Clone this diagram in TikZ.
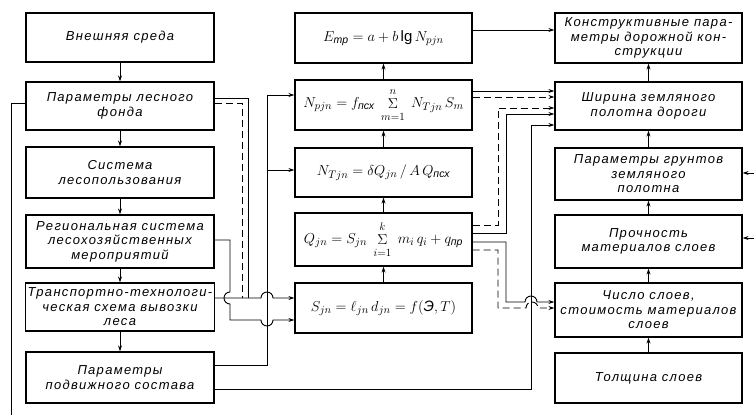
\documentclass[tikz,border=0pt]{standalone}
\usepackage{fontspec}
\usepackage{amsmath}
\setmainfont{Liberation Sans}
\newfontfamily\drft[LetterSpace=10]{Liberation Sans}
\usetikzlibrary{arrows.meta}
\newcommand{\bigsig}[2]{\mathop{\Sigma}\limits_{\lower3pt\hbox{$\scriptstyle #1$}}^{\raise2pt\hbox{$\scriptstyle #2$}}}
\begin{document}
\begin{tikzpicture}[x=1pt,y=1pt,
  box/.style={draw, line width=1.2pt, inner sep=2pt, align=center,
    font=\drft\itshape\fontsize{13}{14.5}\selectfont},
  fbox/.style={draw, line width=1.2pt, inner sep=2pt,
    font=\itshape\fontsize{15}{18}\selectfont},
  ln/.style={line width=0.9pt},
  arr/.style={ln, -{Stealth[length=6pt,width=4pt]}},
  dsh/.style={ln, dash pattern=on 7pt off 4pt},
]
\useasboundingbox (0,0) rectangle (754,-415);

% left column
\node[box, minimum width=188pt, minimum height=49pt] (L1) at (120,-37.5) {Внешняя среда};
\node[box, minimum width=188pt, minimum height=48pt] (L2) at (120,-106) {Параметры лесного\\фонда};
\node[box, minimum width=188pt, minimum height=51pt] (L3) at (120,-172.5) {Система\\лесопользования};
\node[box, minimum width=188pt, minimum height=53pt] (L4) at (120,-241.5) {Региональная система\\лесохозяйственных\\мероприятий};
\node[box, minimum width=188pt, minimum height=48pt] (L5) at (120,-307) {Транспортно-технологи-\\ческая схема вывозки\\леса};
\node[box, minimum width=188pt, minimum height=51pt] (L6) at (120,-377.5) {Параметры\\подвижного состава};

% middle column
\node[fbox, minimum width=177pt, minimum height=50pt] (M1) at (383.5,-38) {$E_{\text{тр}} = a + b\lg N_{pjn}$};
\node[fbox, minimum width=177pt, minimum height=50pt] (M2) at (383.5,-105) {$N_{pjn} = f_{\text{псх}}\;\bigsig{m=1}{n}\; N_{Tjn}\, S_m$};
\node[fbox, minimum width=177pt, minimum height=49pt] (M3) at (383.5,-172.5) {$N_{Tjn} = \delta Q_{jn}\,/\,A\,Q_{\text{псх}}$};
\node[fbox, minimum width=177pt, minimum height=53pt] (M4) at (383.5,-239.5) {$Q_{jn} = S_{jn}\;\bigsig{i=1}{k}\; m_i\, q_i + q_{\text{пр}}$};
\node[fbox, minimum width=177pt, minimum height=50pt] (M5) at (383.5,-308) {$S_{jn} = \ell_{jn}\, d_{jn} = f(\text{Э}, T)$};

% right column
\node[box, minimum width=187pt, minimum height=50pt] (R1) at (648.5,-38) {Конструктивные пара-\\метры дорожной кон-\\струкции};
\node[box, minimum width=187pt, minimum height=48pt] (R2) at (648.5,-106) {Ширина земляного\\полотна дороги};
\node[box, minimum width=187pt, minimum height=52pt] (R3) at (648.5,-174) {Параметры грунтов\\земляного\\полотна};
\node[box, minimum width=187pt, minimum height=53pt] (R4) at (648.5,-241.5) {Прочность\\материалов слоев};
\node[box, minimum width=187pt, minimum height=54pt] (R5) at (648.5,-310) {Число слоев,\\стоимость материалов\\слоев};
\node[box, minimum width=187pt, minimum height=50pt] (R6) at (648.5,-378) {Толщина слоев};

% column arrows
\foreach \a/\b in {L1/L2,L2/L3,L3/L4,L4/L5,L5/L6} \draw[arr] (\a.south) -- (\b.north);
\foreach \a/\b in {M2/M1,M3/M2,M4/M3,M5/M4} \draw[arr] (\a.north) -- (\b.south);
\foreach \a/\b in {R2/R1,R3/R2,R4/R3,R5/R4,R6/R5} \draw[arr] (\a.north) -- (\b.south);

% middle -> right
\draw[arr] (M1.east |- 0,-30) -- (R1.west |- 0,-30);
\draw[arr] (M2.east |- 0,-91) -- (R2.west |- 0,-91);
\draw[dsh, -{Stealth[length=6pt,width=4pt]}] (M2.east |- 0,-97) -- (R2.west |- 0,-97);
\draw[dsh, -{Stealth[length=6pt,width=4pt]}] (M4.east |- 0,-225) -- (498,-225) -- (498,-108) -- (R2.west |- 0,-108);
\draw[arr] (M4.east |- 0,-233) -- (506,-233) -- (506,-114) -- (R2.west |- 0,-114);
\draw[arr] (M4.east |- 0,-242) -- (506,-242) -- (506,-302) -- (525,-302)
  arc[start angle=180, end angle=0, radius=6] -- (R5.west |- 0,-302);
\draw[dsh, -{Stealth[length=6pt,width=4pt]}] (M4.east |- 0,-250) -- (498,-250) -- (498,-308) -- (526,-308)
  arc[start angle=180, end angle=0, radius=6] -- (R5.west |- 0,-308);
\draw[arr] (L6.east |- 0,-389) -- (531,-389) -- (531,-125) -- (R2.west |- 0,-125);

% left -> middle
\draw[arr] (L6.east |- 0,-365) -- (267,-365) -- (267,-95) -- (M2.west |- 0,-95);
\draw[arr] (267,-170) -- (M3.west |- 0,-170);
\draw[ln] (L2.east |- 0,-98) -- (248,-98) -- (248,-298);
\draw[dsh] (L2.east |- 0,-103) -- (242,-103) -- (242,-298);
\draw[arr] (L5.east |- 0,-298) -- (261,-298)
  arc[start angle=180, end angle=0, radius=6] -- (M5.west |- 0,-298);
\draw[arr] (L4.east |- 0,-240) -- (230,-240) -- (230,-292)
  arc[start angle=90, end angle=270, radius=6] -- (230,-320) -- (261,-320)
  arc[start angle=180, end angle=360, radius=6] -- (M5.west |- 0,-320);

% outer lines
\draw[ln] (L2.west |- 0,-103) -- (11,-103) -- (11,-415);
\draw[arr] (754,-173) -- (R3.east |- 0,-173);
\draw[arr] (754,-238) -- (R4.east |- 0,-238);
\end{tikzpicture}
\end{document}
